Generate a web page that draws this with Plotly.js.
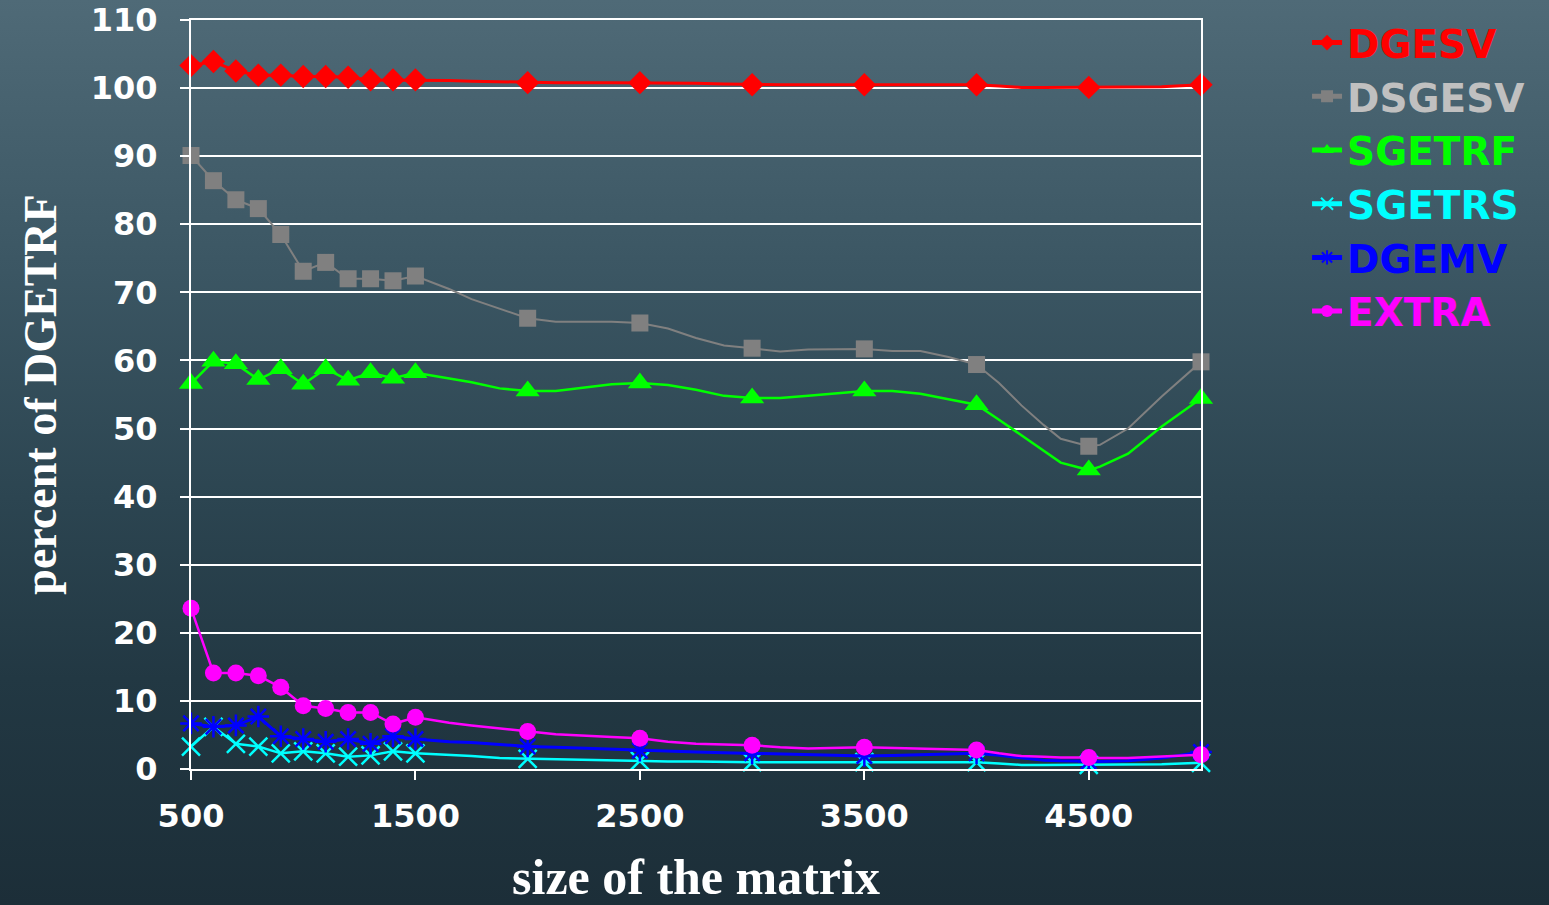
<!DOCTYPE html>
<html>
<head>
<meta charset="utf-8">
<script src="https://cdn.plot.ly/plotly-3.0.1.min.js"></script>
<style>
  html, body { margin: 0; padding: 0; }
  body {
    width: 1549px; height: 905px; overflow: hidden;
    background: linear-gradient(to bottom, #4f6a77 0%, #3b5663 30%, #2c4551 55%, #223843 75%, #1c2e38 100%);
  }
  #chart { width: 1549px; height: 905px; }
</style>
</head>
<body>
<div id="chart"></div>
<script>
// Matrix sizes: every point of the plotted lines
const matrixSize = [500, 600, 700, 800, 900, 1000, 1100, 1200, 1300, 1400, 1500,
  1650, 1750, 1875, 2000, 2125, 2375, 2500, 2625, 2750, 2875, 3000, 3125, 3250,
  3500, 3625, 3750, 3875, 4000, 4100, 4200, 4300, 4375, 4500, 4550, 4675, 4825, 5000];
// Matrix sizes that carry a marker
const markedSize = [500, 600, 700, 800, 900, 1000, 1100, 1200, 1300, 1400, 1500,
  2000, 2500, 3000, 3500, 4000, 4500, 5000];

const seriesNames = ["DGESV", "DSGESV", "SGETRF", "SGETRS", "DGEMV", "EXTRA"];

// percent of DGETRF
const DGESV = [103.3, 103.9, 102.5, 101.9, 101.9, 101.7, 101.7, 101.6, 101.2, 101.2, 101.2,
  101.1, 101.0, 100.9, 100.8, 100.8, 100.8, 100.8, 100.8, 100.7, 100.6, 100.5, 100.5, 100.5,
  100.5, 100.5, 100.5, 100.5, 100.5, 100.3, 100.1, 100.1, 100.1, 100.1, 100.1, 100.1, 100.2, 100.5];
const DSGESV = [90.1, 86.4, 83.6, 82.3, 78.5, 73.1, 74.4, 72.0, 72.0, 71.7, 72.4,
  70.5, 69.0, 67.6, 66.2, 65.7, 65.7, 65.5, 64.7, 63.3, 62.2, 61.8, 61.3, 61.6,
  61.7, 61.4, 61.4, 60.5, 59.4, 56.7, 53.4, 50.5, 48.5, 47.4, 47.6, 50.0, 54.7, 59.8];
const SGETRF = [56.6, 59.9, 59.5, 57.2, 58.8, 56.5, 58.8, 57.1, 58.2, 57.4, 58.2,
  57.4, 56.8, 55.9, 55.5, 55.5, 56.5, 56.7, 56.4, 55.7, 54.8, 54.5, 54.5, 54.8,
  55.5, 55.5, 55.1, 54.3, 53.5, 51.3, 49.0, 46.8, 45.0, 43.9, 44.4, 46.3, 50.3, 54.4];
const SGETRS = [3.3, 6.2, 3.7, 3.3, 2.3, 2.6, 2.3, 1.8, 2.0, 2.6, 2.3,
  2.1, 1.9, 1.6, 1.5, 1.4, 1.3, 1.2, 1.1, 1.1, 1.0, 1.0, 1.0, 1.0,
  1.0, 1.0, 1.0, 1.0, 1.0, 0.8, 0.6, 0.6, 0.6, 0.6, 0.6, 0.6, 0.7, 0.9];
const DGEMV = [6.7, 6.2, 6.4, 7.7, 4.8, 4.4, 4.0, 4.4, 3.7, 4.8, 4.4,
  4.0, 3.9, 3.6, 3.3, 3.2, 2.9, 2.7, 2.6, 2.5, 2.4, 2.3, 2.2, 2.1,
  1.9, 2.0, 2.1, 2.2, 2.3, 2.0, 1.6, 1.3, 1.2, 1.1, 1.1, 1.2, 1.6, 2.5];
const EXTRA = [23.6, 14.1, 14.1, 13.7, 12.0, 9.3, 8.9, 8.3, 8.3, 6.6, 7.6,
  6.8, 6.4, 6.0, 5.5, 5.1, 4.7, 4.5, 4.0, 3.7, 3.6, 3.5, 3.2, 3.0,
  3.2, 3.1, 3.1, 3.0, 2.8, 2.3, 1.9, 1.8, 1.7, 1.7, 1.6, 1.6, 1.8, 2.1];

const yTicks = [0, 10, 20, 30, 40, 50, 60, 70, 80, 90, 100, 110];
const xTicks = [500, 1500, 2500, 3500, 4500];

const styles = {
  DGESV:  {color: "#ff0000", text: "#ff0000", symbol: "diamond", size: 18, width: 3, open: false},
  DSGESV: {color: "#808080", text: "#c0c0c0", symbol: "square", size: 17, width: 2, open: false},
  SGETRF: {color: "#00ff00", text: "#00ff00", symbol: "triangle-up", size: 21, width: 2.5, open: false},
  SGETRS: {color: "#00ffff", text: "#00ffff", symbol: "x-thin-open", size: 18, width: 2.5, open: true},
  DGEMV:  {color: "#0000ff", text: "#0000ff", symbol: "asterisk-open", size: 18, width: 3, open: true},
  EXTRA:  {color: "#ff00ff", text: "#ff00ff", symbol: "circle", size: 17, width: 2.5, open: false}
};
const values = {DGESV, DSGESV, SGETRF, SGETRS, DGEMV, EXTRA};

const traces = seriesNames.map(name => {
  const s = styles[name];
  const sizes = matrixSize.map(x => markedSize.includes(x) ? s.size : 0);
  return {
    type: "scatter",
    mode: "lines+markers",
    name: '<span style="color:' + s.text + '">' + name + '</span>',
    x: matrixSize,
    y: values[name],
    cliponaxis: false,
    line: {color: s.color, width: s.width},
    marker: {
      symbol: s.symbol,
      size: sizes,
      color: s.color,
      opacity: 1,
      line: s.open ? {color: s.color, width: 2.5} : {width: 0}
    },
    hoverinfo: "x+y+name"
  };
});

const layout = {
  width: 1549, height: 905,
  margin: {l: 191, r: 348, t: 19, b: 136},
  paper_bgcolor: "rgba(0,0,0,0)",
  plot_bgcolor: "rgba(0,0,0,0)",
  showlegend: true,
  legend: {
    x: 1.105, xanchor: "left", y: 1.011, yanchor: "top",
    font: {family: "DejaVu Sans, Verdana, sans-serif", size: 39, weight: "bold", color: "#ffffff"},
    bgcolor: "rgba(0,0,0,0)",
    itemsizing: "constant",
    tracegroupgap: 0
  },
  xaxis: {
    range: [500, 5000],
    tickmode: "array", tickvals: xTicks, ticktext: xTicks.map(String),
    ticks: "outside", ticklen: 9, tickwidth: 2, tickcolor: "#ffffff",
    ticklabelstandoff: 9,
    showline: true, linecolor: "#ffffff", linewidth: 2, mirror: true,
    showgrid: false, zeroline: false,
    tickfont: {family: "DejaVu Sans, Verdana, sans-serif", size: 32, weight: "bold", color: "#ffffff"},
    title: {text: "size of the matrix", standoff: 38,
      font: {family: "Liberation Serif, Times New Roman, serif", size: 50, weight: "bold", color: "#ffffff"}}
  },
  yaxis: {
    range: [0, 110],
    tickmode: "array", tickvals: yTicks, ticktext: yTicks.map(String),
    ticks: "outside", ticklen: 9, tickwidth: 2, tickcolor: "#ffffff",
    ticklabelstandoff: 16,
    showline: true, linecolor: "#ffffff", linewidth: 2, mirror: true,
    showgrid: true, gridcolor: "#ffffff", gridwidth: 2, zeroline: false,
    tickfont: {family: "DejaVu Sans, Verdana, sans-serif", size: 32, weight: "bold", color: "#ffffff"},
    title: {text: "percent of DGETRF", standoff: 20,
      font: {family: "Liberation Serif, Times New Roman, serif", size: 46, weight: "bold", color: "#ffffff"}}
  }
};

Plotly.newPlot("chart", traces, layout, {displayModeBar: false, staticPlot: true});
</script>
</body>
</html>
